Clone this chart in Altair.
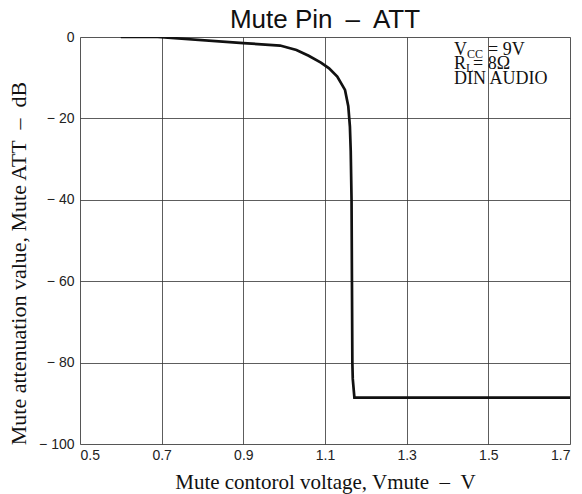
import altair as alt
import pandas as pd

# Curve
volt = [0.60, 0.69, 0.90, 0.99, 1.03, 1.06, 1.09, 1.11, 1.13, 1.149, 1.157,
        1.161, 1.163, 1.165, 1.166, 1.167, 1.168, 1.172, 1.20, 1.70]
att = [0.0, 0.0, -1.5, -2.1, -3.2, -4.6, -6.3, -7.7, -9.7, -13.0, -17.0,
       -22.0, -28.0, -40.0, -60.0, -80.0, -84.0, -88.6, -88.6, -88.6]

x_ticks = [0.5, 0.7, 0.9, 1.1, 1.3, 1.5, 1.7]
y_ticks = [0, -20, -40, -60, -80, -100]

EN = "\u2002"
title_text = "Mute Pin" + EN + "\u2013" + EN + "ATT"
x_title = "Mute contorol voltage, Vmute" + EN + "\u2013" + EN + "V"
y_title = "Mute attenuation value, Mute ATT" + EN + "\u2013" + EN + "dB"

df = pd.DataFrame({"v": volt, "att": att})

SERIF = "Liberation Serif"
SANS = "Liberation Sans"

line = alt.Chart(df).mark_line(color="#111111", strokeWidth=2.7, clip=True).encode(
    x=alt.X("v:Q", scale=alt.Scale(domain=[0.5, 1.7], nice=False, zero=False),
            axis=alt.Axis(values=x_ticks, format=".1f", title=x_title,
                          grid=True, gridColor="#333333", gridWidth=0.8,
                          domain=False, ticks=False,
                          labelFont=SANS, labelFontSize=14, labelColor="#222222",
                          labelPadding=4,
                          titleFont=SERIF, titleFontSize=21, titleFontWeight="normal",
                          titleColor="#111111", titleY=44, titleBaseline="alphabetic")),
    y=alt.Y("att:Q", scale=alt.Scale(domain=[-100, 0], nice=False, zero=False),
            axis=alt.Axis(values=y_ticks, title=y_title,
                          labelExpr="datum.value < 0 ? '\u2212 ' + abs(datum.value) : datum.value",
                          grid=True, gridColor="#333333", gridWidth=0.8,
                          domain=False, ticks=False,
                          labelFont=SANS, labelFontSize=14, labelColor="#222222",
                          labelPadding=6,
                          titleFont=SERIF, titleFontSize=22, titleFontWeight="normal",
                          titleColor="#111111", titleX=-62, titleY=226,
                          titleAlign="center", titleBaseline="middle")),
)

one = pd.DataFrame({"k": [0]})

def txt(s, x, y, size, font=SERIF, align="left"):
    return alt.Chart(one).mark_text(text=s, font=font, fontSize=size, align=align,
                                    baseline="alphabetic", color="#111111").encode(
        x=alt.value(x), y=alt.value(y))

ann = [
    txt("V", 374, 18, 18), txt("CC", 387, 21, 12), txt(" = 9V", 408, 18, 18),
    txt("R", 374, 32, 18), txt("L", 386, 35, 12), txt(" = 8\u03a9", 393, 32, 18),
    txt("DIN AUDIO", 374, 47, 18),
]

title = txt(title_text, 245, -9, 26, font=SANS, align="center")

chart = alt.layer(line, title, *ann).properties(
    width=490, height=407,
    autosize=alt.AutoSizeParams(type="none"),
    padding={"left": 72, "top": 29, "right": 4, "bottom": 50},
).configure_view(stroke="#111111", strokeWidth=1.5).configure(background="white")

chart.save("out.html", embed_options={"renderer": "svg", "actions": False})
